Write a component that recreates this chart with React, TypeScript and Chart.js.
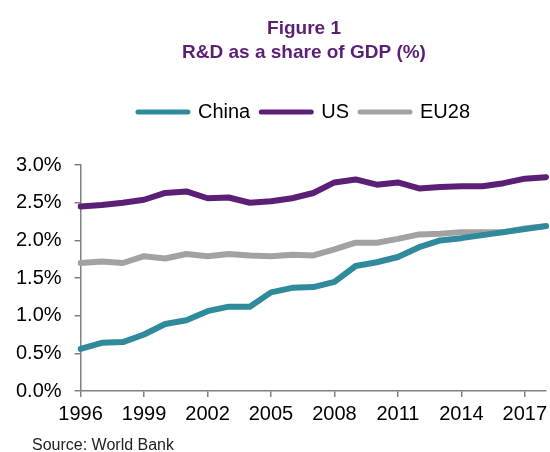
import React, { useEffect, useRef } from 'react';
import { Chart, registerables } from 'chart.js';

Chart.register(...registerables);

const years = ['1996', '1997', '1998', '1999', '2000', '2001', '2002', '2003', '2004', '2005', '2006', '2007', '2008', '2009', '2010', '2011', '2012', '2013', '2014', '2015', '2016', '2017', '2018'];
const xTickLabels = ['1996', '1999', '2002', '2005', '2008', '2011', '2014', '2017'];
const china = [0.56, 0.64, 0.65, 0.75, 0.89, 0.94, 1.06, 1.12, 1.12, 1.31, 1.37, 1.38, 1.45, 1.66, 1.71, 1.78, 1.91, 2.0, 2.03, 2.07, 2.11, 2.15, 2.19];
const us = [2.45, 2.47, 2.5, 2.54, 2.63, 2.65, 2.56, 2.57, 2.5, 2.52, 2.56, 2.63, 2.77, 2.81, 2.74, 2.77, 2.69, 2.71, 2.72, 2.72, 2.76, 2.82, 2.84];
const eu28 = [1.7, 1.72, 1.7, 1.79, 1.76, 1.82, 1.79, 1.82, 1.8, 1.79, 1.81, 1.8, 1.88, 1.97, 1.97, 2.02, 2.08, 2.09, 2.11, 2.11, 2.11, 2.16, 2.19];
const titleLines = ['Figure 1', 'R&D as a share of GDP (%)'];
const sourceText = 'Source: World Bank';

const FONT = "'Liberation Sans', Arial, sans-serif";
const TEAL = '#2f8a9b';
const PURPLE = '#5c1f76';
const GREY = '#a2a2a2';
const AXIS = '#808080';

const legendSpacer = {
  id: 'legendSpacer',
  beforeInit(chart: any) {
    const legend = chart.legend;
    if (!legend) return;
    const orig = legend.fit;
    legend.fit = function () {
      orig.bind(legend)();
      this.height += 33;
    };
  },
};

export default function App() {
  const ref = useRef<HTMLCanvasElement | null>(null);

  useEffect(() => {
    if (!ref.current) return;
    const mk = (label: string, data: number[], color: string) => ({
      label,
      data,
      borderColor: color,
      backgroundColor: color,
      borderWidth: 6,
      pointRadius: 0,
      pointHoverRadius: 0,
      pointStyle: 'line',
      tension: 0,
      borderCapStyle: 'round',
      borderJoinStyle: 'round',
      fill: false,
    });
    const chart = new Chart(ref.current, {
      type: 'line',
      data: {
        labels: years,
        datasets: [mk('China', china, TEAL), mk('US', us, PURPLE), mk('EU28', eu28, GREY)] as any,
      },
      options: {
        responsive: false,
        animation: false,
        events: [],
        layout: { padding: { left: 3, right: 0, top: 0, bottom: 21 } },
        plugins: {
          title: {
            display: true,
            text: titleLines,
            color: PURPLE,
            font: { family: FONT, size: 19, weight: 'bold', lineHeight: 1.24 },
            padding: { top: 17, bottom: 27 },
          },
          legend: {
            display: true,
            labels: {
              usePointStyle: true,
              pointStyleWidth: 50,
              color: '#000',
              padding: 11,
              font: { family: FONT, size: 20 },
              generateLabels: (c: any) =>
                Chart.defaults.plugins.legend.labels.generateLabels(c).map((l: any) => ({ ...l, lineWidth: 5, lineCap: 'round' })),
            },
          },
          tooltip: { enabled: false },
        },
        scales: {
          x: {
            type: 'category',
            offset: false,
            grid: { drawOnChartArea: false, drawTicks: true, tickLength: 6, color: AXIS, lineWidth: 1.5 },
            border: { color: AXIS, width: 1.5 },
            ticks: {
              autoSkip: false,
              maxRotation: 0,
              padding: 5,
              color: '#000',
              font: { family: FONT, size: 20 },
              callback: (_v: any, i: number) => (xTickLabels.includes(years[i]) ? years[i] : null),
            },
          },
          y: {
            min: 0,
            max: 3,
            grid: { drawOnChartArea: false, drawTicks: true, tickLength: 6, color: AXIS, lineWidth: 1.5 },
            border: { color: AXIS, width: 1.5 },
            ticks: {
              stepSize: 0.5,
              padding: 13,
              color: '#000',
              font: { family: FONT, size: 20 },
              callback: (v: any) => Number(v).toFixed(1) + '%',
            },
          },
          yRightSpace: {
            position: 'right',
            display: true,
            min: 0,
            max: 3,
            grid: { display: false, drawTicks: false },
            border: { display: false },
            ticks: { display: false },
            afterFit: (s: any) => {
              s.width = 59;
            },
          },
        },
      } as any,
      plugins: [legendSpacer],
    });
    return () => chart.destroy();
  }, []);

  return (
    <div style={{ position: 'absolute', left: 0, top: 0, width: 550, height: 452, overflow: 'hidden', background: '#fff' }}>
      <canvas ref={ref} width={605} height={452} style={{ display: 'block', width: 605, height: 452 }} />
      <div
        style={{
          position: 'absolute',
          left: 32,
          top: 437,
          fontFamily: FONT,
          fontSize: 16,
          lineHeight: '16px',
          color: '#222',
          whiteSpace: 'nowrap',
        }}
      >
        {sourceText}
      </div>
    </div>
  );
}
